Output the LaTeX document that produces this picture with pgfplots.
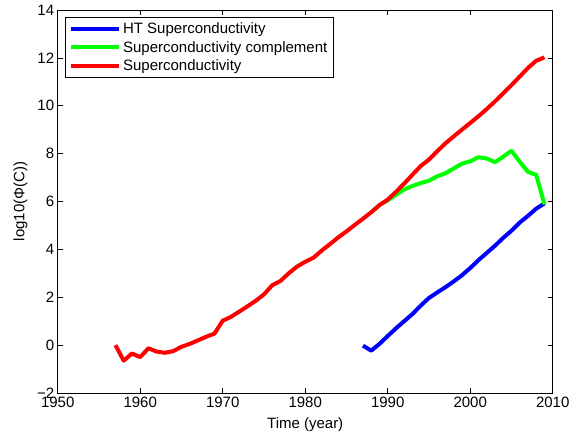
\documentclass[border=0pt]{standalone}
\usepackage{fontspec}
\setmainfont{Liberation Sans}
\usepackage{pgfplots}
\pgfplotsset{compat=1.18}

\begin{document}
\begin{tikzpicture}
\begin{axis}[
    scale only axis,
    width=495bp,
    height=383bp,
    xmin=1950, xmax=2010,
    ymin=-2, ymax=14,
    xtick={1950,1960,...,2010},
    ytick={-2,0,...,14},
    yticklabels={−2,0,2,4,6,8,10,12,14},
    /pgf/number format/1000 sep={},
    /pgf/number format/assume math mode=true,
    font=\fontsize{15bp}{18bp}\selectfont,
    tick align=inside,
    major tick length=5bp,
    axis line style={line width=0.8bp},
    every tick/.style={black, line width=0.7bp},
    xlabel={Time (year)},
    ylabel={log10(Φ(C))},
    xlabel style={at={(axis description cs:0.5,0)}, anchor=north, inner sep=0pt, yshift=-24bp},
    ylabel style={at={(axis description cs:0,0.5)}, anchor=south, inner sep=0pt, yshift=30bp},
    legend style={at={(0,1)}, anchor=north west, xshift=7bp, yshift=-7bp,
        draw=black, line width=0.8bp, inner xsep=4bp, inner ysep=3bp,
        row sep=2.5bp, font=\fontsize{15bp}{18bp}\selectfont},
    legend cell align={left},
    legend image code/.code={\draw[#1] (0bp,0bp) -- (48bp,0bp);},
    every axis plot/.append style={line width=4bp, line join=round},
]

% HT superconductivity
\addplot[blue] coordinates {
    (1987,-0.02) (1988,-0.23) (1989,0.05) (1990,0.38) (1991,0.70)
    (1992,1.00) (1993,1.30) (1994,1.65) (1995,1.97) (1996,2.20)
    (1997,2.42) (1998,2.66) (1999,2.92) (2000,3.22) (2001,3.55)
    (2002,3.85) (2003,4.15) (2004,4.48) (2005,4.78) (2006,5.12)
    (2007,5.40) (2008,5.70) (2009,5.92)
};
\addlegendentry{HT Superconductivity}

% complement
\addplot[green] coordinates {
    (1988,5.55) (1989,5.85) (1990,6.05) (1991,6.28) (1992,6.50)
    (1993,6.65) (1994,6.77) (1995,6.87) (1996,7.05) (1997,7.18)
    (1998,7.38) (1999,7.58) (2000,7.68) (2001,7.85) (2002,7.80)
    (2003,7.64) (2004,7.87) (2005,8.12) (2006,7.66) (2007,7.24)
    (2008,7.11) (2009,5.88)
};
\addlegendentry{Superconductivity complement}

% all superconductivity
\addplot[red] coordinates {
    (1957,0.00) (1958,-0.65) (1959,-0.35) (1960,-0.50) (1961,-0.13)
    (1962,-0.27) (1963,-0.32) (1964,-0.25) (1965,-0.07) (1966,0.05)
    (1967,0.20) (1968,0.35) (1969,0.48) (1970,1.02) (1971,1.18)
    (1972,1.40) (1973,1.62) (1974,1.85) (1975,2.12) (1976,2.50)
    (1977,2.68) (1978,3.00) (1979,3.28) (1980,3.48) (1981,3.65)
    (1982,3.95) (1983,4.22) (1984,4.50) (1985,4.75) (1986,5.02)
    (1987,5.28) (1988,5.55) (1989,5.85) (1990,6.08) (1991,6.40)
    (1992,6.75) (1993,7.12) (1994,7.48) (1995,7.75) (1996,8.10)
    (1997,8.43) (1998,8.72) (1999,9.00) (2000,9.28) (2001,9.56)
    (2002,9.86) (2003,10.18) (2004,10.52) (2005,10.86) (2006,11.22)
    (2007,11.58) (2008,11.88) (2009,12.02)
};
\addlegendentry{Superconductivity}

\end{axis}
\pgfresetboundingbox
\useasboundingbox ([shift={(-57.7bp,-41bp)}]current axis.south west)
    rectangle ([shift={(23.3bp,10bp)}]current axis.north east);
\end{tikzpicture}
\end{document}
